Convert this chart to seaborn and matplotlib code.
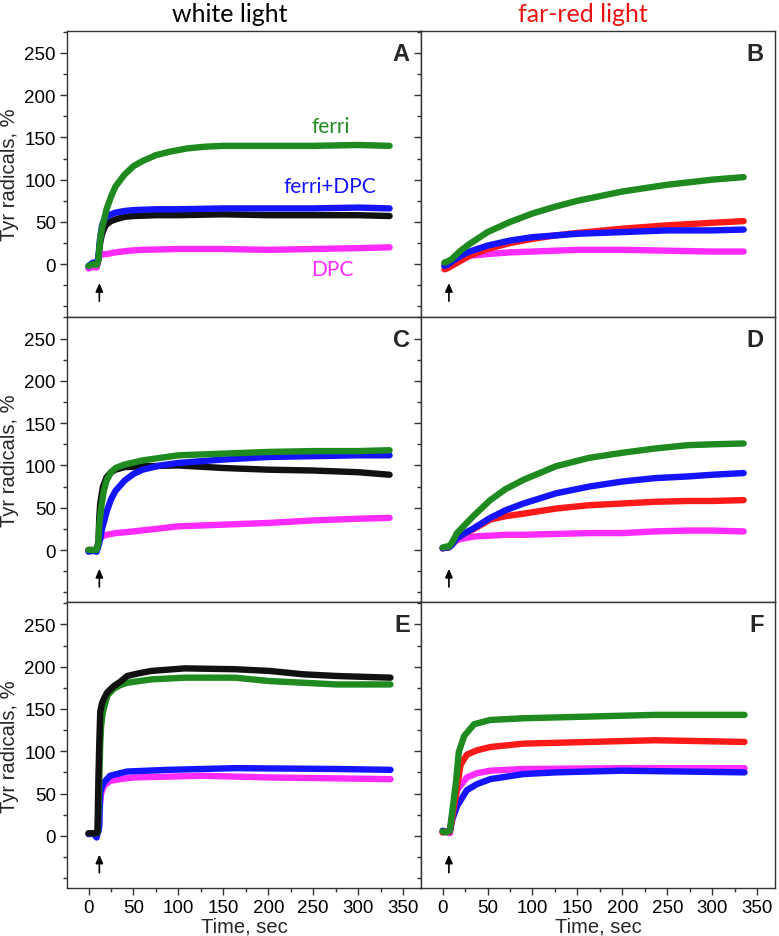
import matplotlib
matplotlib.use("Agg")
import matplotlib.pyplot as plt
import seaborn as sns
import pandas as pd
from matplotlib.ticker import MultipleLocator

# ---------------- data ----------------
# Panel A (white light)
A_green_t = [0, 5, 9, 11, 12, 13, 15, 18, 20, 25, 30, 40, 50, 60, 75, 90, 110, 130, 150, 200, 250, 300, 335]
A_green_v = [-2, 0, -1, 5, 20, 30, 43, 56, 65, 80, 92, 106, 116, 122, 129, 133, 137, 139, 140, 140, 140, 141, 140]
A_blue_t = [0, 5, 9, 11, 12, 13, 15, 18, 20, 25, 30, 40, 50, 75, 100, 150, 200, 250, 300, 335]
A_blue_v = [-2, 2, 0, 8, 22, 32, 46, 54, 57, 59, 61, 63, 64, 65, 65, 66, 66, 66, 67, 66]
A_black_t = A_blue_t
A_black_v = [-4, -2, -3, 6, 18, 26, 36, 44, 47, 51, 53, 56, 57, 58, 58, 59, 58, 58, 58, 57]
A_mag_t = [0, 5, 9, 11, 12, 15, 20, 30, 45, 60, 100, 150, 200, 250, 300, 335]
A_mag_v = [-5, -3, -4, 5, 10, 12, 12, 14, 16, 17, 18, 18, 17, 18, 19, 20]

# Panel B (far-red light)
B_t = [2, 5, 10, 20, 30, 50, 75, 100, 125, 150, 200, 250, 300, 335]
B_green_v = [2, 3, 6, 16, 24, 38, 50, 60, 68, 75, 86, 94, 100, 103]
B_blue_v = [-2, -1, 3, 10, 15, 22, 28, 32, 34, 36, 38, 40, 40, 41]
B_red_v = [-6, -5, -2, 4, 10, 18, 25, 30, 34, 37, 42, 46, 49, 51]
B_mag_v = [0, 2, 4, 8, 10, 12, 14, 15, 16, 17, 17, 16, 15, 15]

# Panel C (white light)
C_black_t = [0, 5, 9, 11, 12, 13, 14, 16, 20, 25, 30, 40, 60, 100, 150, 200, 250, 300, 335]
C_black_v = [0, 0, 0, 10, 40, 55, 62, 75, 86, 92, 95, 98, 99, 100, 97, 95, 94, 92, 89]
C_green_t = [0, 5, 9, 11, 12, 13, 14, 17, 20, 25, 30, 40, 60, 100, 150, 200, 250, 300, 335]
C_green_v = [0, 0, 0, 8, 30, 40, 50, 70, 82, 92, 97, 101, 106, 112, 114, 116, 117, 117, 118]
C_blue_t = [0, 5, 9, 11, 12, 15, 20, 25, 30, 40, 50, 60, 80, 100, 150, 200, 250, 300, 335]
C_blue_v = [-2, -1, -2, 5, 8, 25, 45, 60, 70, 82, 90, 95, 100, 103, 107, 110, 111, 112, 112]
C_mag_t = [0, 5, 9, 11, 12, 15, 20, 30, 50, 100, 150, 200, 250, 300, 335]
C_mag_v = [0, 0, 0, 8, 12, 16, 18, 20, 22, 28, 30, 32, 35, 37, 38]

# Panel D (far-red light)
D_t = [0, 4, 7, 10, 16, 25, 35, 53, 70, 90, 126, 163, 200, 236, 273, 300, 335]
D_green_v = [3, 4, 4, 8, 20, 30, 41, 59, 72, 83, 99, 109, 115, 120, 124, 125, 126]
D_blue_v = [2, 3, 3, 6, 14, 20, 26, 38, 47, 55, 67, 75, 81, 85, 87, 89, 91]
D_red_v = [2, 3, 3, 6, 14, 20, 25, 36, 40, 43, 49, 53, 55, 57, 58, 58, 59]
D_mag_v = [2, 3, 4, 6, 12, 14, 16, 17, 18, 18, 19, 20, 20, 22, 23, 23, 22]

# Panel E (white light)
E_black_t = [0, 5, 9, 10, 10.5, 11, 12, 13, 15, 17, 21, 28, 35, 43, 55, 70, 107, 163, 201, 239, 276, 336]
E_black_v = [3, 3, 3, 5, 40, 70, 112, 147, 157, 162, 170, 177, 182, 189, 192, 195, 198, 197, 195, 191, 189, 187]
E_green_t = [0, 5, 9, 10, 11, 12, 13, 14, 16, 21, 28, 35, 43, 70, 107, 163, 201, 239, 276, 336]
E_green_v = [3, 3, 3, 4, 30, 70, 109, 130, 147, 166, 174, 178, 181, 185, 187, 187, 183, 181, 179, 179]
E_blue_t = [0, 5, 9, 10, 11, 12, 13, 15, 17, 24, 35, 43, 88, 163, 276, 336]
E_blue_v = [2, 3, -2, 3, 5, 13, 52, 58, 63, 71, 74, 76, 78, 80, 79, 78]
E_mag_t = [0, 5, 9, 10, 11, 12, 14, 17, 24, 35, 51, 126, 201, 336]
E_mag_v = [2, 3, 2, 4, 20, 32, 50, 59, 65, 67, 69, 71, 69, 67]

# Panel F (far-red light)
F_green_t = [0, 4, 8, 11, 15, 18, 24, 35, 53, 90, 163, 236, 336]
F_green_v = [5, 4, 6, 31, 65, 99, 118, 132, 137, 139, 141, 143, 143]
F_red_t = [0, 4, 8, 11, 15, 20, 27, 38, 53, 90, 163, 236, 336]
F_red_v = [4, 5, 5, 24, 50, 84, 96, 101, 105, 109, 111, 113, 111]
F_mag_t = [0, 4, 8, 11, 16, 27, 38, 53, 90, 200, 336]
F_mag_v = [4, 5, 3, 27, 54, 69, 74, 77, 79, 80, 80]
F_blue_t = [0, 4, 8, 11, 16, 27, 38, 53, 90, 126, 200, 336]
F_blue_v = [6, 5, 5, 20, 35, 54, 61, 67, 73, 75, 77, 75]

panel_letters = ["A", "B", "C", "D", "E", "F"]
column_titles = ["white light", "far-red light"]
x_ticks = [0, 50, 100, 150, 200, 250, 300, 350]
y_ticks = [0, 50, 100, 150, 200, 250]

COL = {"black": "#111111", "magenta": "#ff2bff", "blue": "#1414ff",
       "green": "#1f8a1f", "red": "#ff1a1a"}


def frame(*items):
    rows = []
    for name, t, v in items:
        for ti, vi in zip(t, v):
            rows.append({"series": name, "t": ti, "v": vi})
    return pd.DataFrame(rows)


panels = [
    frame(("black", A_black_t, A_black_v), ("magenta", A_mag_t, A_mag_v),
          ("blue", A_blue_t, A_blue_v), ("green", A_green_t, A_green_v)),
    frame(("magenta", B_t, B_mag_v), ("red", B_t, B_red_v),
          ("blue", B_t, B_blue_v), ("green", B_t, B_green_v)),
    frame(("magenta", C_mag_t, C_mag_v), ("black", C_black_t, C_black_v),
          ("blue", C_blue_t, C_blue_v), ("green", C_green_t, C_green_v)),
    frame(("magenta", D_t, D_mag_v), ("red", D_t, D_red_v),
          ("blue", D_t, D_blue_v), ("green", D_t, D_green_v)),
    frame(("magenta", E_mag_t, E_mag_v), ("blue", E_blue_t, E_blue_v),
          ("green", E_green_t, E_green_v), ("black", E_black_t, E_black_v)),
    frame(("magenta", F_mag_t, F_mag_v), ("blue", F_blue_t, F_blue_v),
          ("red", F_red_t, F_red_v), ("green", F_green_t, F_green_v)),
]
arrow_x = [12, 7, 12, 7, 12, 7]

sns.set_style("ticks")
plt.rcParams["font.family"] = "sans-serif"
plt.rcParams["font.sans-serif"] = ["Liberation Sans", "Arial", "DejaVu Sans"]

SANS = ["Liberation Sans", "DejaVu Sans"]
HUM = ["Lato", "DejaVu Sans"]

fig, axes = plt.subplots(3, 2, figsize=(7.79, 9.37), dpi=100, sharex=True, sharey=True)
fig.subplots_adjust(left=0.086, right=0.995, top=0.966, bottom=0.051, wspace=0, hspace=0)

for i, ax in enumerate(axes.flat):
    df = panels[i]
    order = list(dict.fromkeys(df["series"]))
    sns.lineplot(data=df, x="t", y="v", hue="series", hue_order=order,
                 palette={k: COL[k] for k in order}, linewidth=4.6,
                 legend=False, sort=False, estimator=None, ax=ax)
    ax.set_xlim(-24, 370)
    ax.set_ylim(-62, 276)
    ax.xaxis.set_major_locator(MultipleLocator(50))
    ax.xaxis.set_minor_locator(MultipleLocator(25))
    ax.yaxis.set_major_locator(MultipleLocator(50))
    ax.yaxis.set_minor_locator(MultipleLocator(25))
    ax.set_yticks(y_ticks)
    ax.set_xticks(x_ticks)
    ax.tick_params(which="major", direction="out", length=5, width=1, colors="#333333",
                   labelsize=13.5, labelcolor="black", pad=3)
    ax.tick_params(which="minor", direction="out", length=3, width=1, colors="#333333")
    for lab in ax.get_xticklabels() + ax.get_yticklabels():
        lab.set_family(SANS)
    for s in ax.spines.values():
        s.set_visible(True)
        s.set_color("#333333")
        s.set_linewidth(1.0)
    ax.set_xlabel("")
    ax.set_ylabel("")
    ax.text(0.968, 0.962, panel_letters[i], transform=ax.transAxes, ha="right", va="top",
            fontsize=17, fontweight="bold", family=SANS)
    ax.annotate("", xy=(arrow_x[i], -19), xytext=(arrow_x[i], -47),
                arrowprops=dict(arrowstyle="-|>,head_length=0.5,head_width=0.22",
                                color="black", lw=1.2))
    if i % 2 == 0:
        ax.set_ylabel("Tyr radicals, %", fontsize=14.5, labelpad=4, family=SANS)
    if i >= 4:
        ax.set_xlabel("Time, sec", fontsize=14.5, labelpad=0, family=SANS)

axes[0, 0].text(269, 163, "ferri", color=COL["green"], fontsize=15, family=HUM,
                ha="center", va="center")
axes[0, 0].text(269, 92, "ferri+DPC", color=COL["blue"], fontsize=15, family=HUM,
                ha="center", va="center")
axes[0, 0].text(271, -6, "DPC", color=COL["magenta"], fontsize=15, family=HUM,
                ha="center", va="center")

fig.text(230 / 779, 1 - 15 / 937, column_titles[0], ha="center", va="center",
         fontsize=18, family=HUM, color="black")
fig.text(583 / 779, 1 - 15 / 937, column_titles[1], ha="center", va="center",
         fontsize=18, family=HUM, color="#ee1111")

fig.savefig("out.png", dpi=100)
